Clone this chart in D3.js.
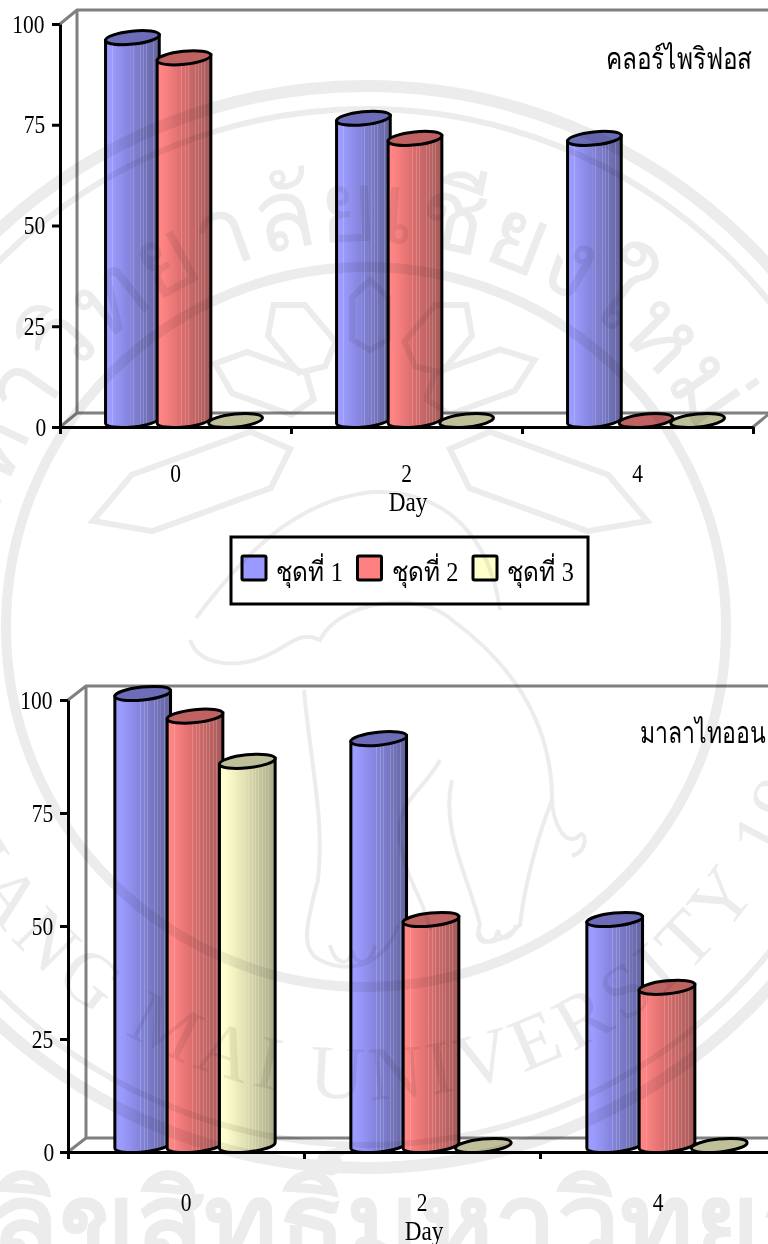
<!DOCTYPE html>
<html>
<head>
<meta charset="utf-8">
<script src="https://cdn.jsdelivr.net/npm/d3@7"></script>
<style>
  html, body { margin: 0; padding: 0; background: #fff; }
  svg { display: block; }
  text { font-family: "Liberation Serif", serif; fill: #000; }
  .squeezed { transform-box: fill-box; transform-origin: center; transform: scaleX(0.86); }
  #seal { mix-blend-mode: multiply; }
  #seal .line { fill: none; stroke: #ececec; }
  #seal text { fill: #ececec; }
</style>
</head>
<body>
<svg id="plot" width="768" height="1244"></svg>
<script>
const days = ['0', '2', '4'];
const seriesNames = ['ชุดที่ 1', 'ชุดที่ 2', 'ชุดที่ 3'];
const yTicks = [0, 25, 50, 75, 100];

const chlorpyrifosTitle = 'คลอร์ไพริฟอส';
const chlorpyrifosValues = [
  [95, 75, 70],
  [90, 70, 0],
  [0, 0, 0]
];

const malathionTitle = 'มาลาไทออน';
const malathionValues = [
  [100, 90, 50],
  [95, 50, 35],
  [85, 0, 0]
];

const legendFill = ['#9999ff', '#ff8080', '#ffffcc'];
const capFill = ['#6c6cb8', '#c06262', '#bfbf99'];
const bodyColors = [
  ['#9c9cff', '#8484dc', '#6464a0'],
  ['#ff8484', '#dc6e6e', '#a55a5a'],
  ['#ffffcd', '#e1e1b4', '#aaaa87']
];
// light pin stripes on the cylinder sides, as fractions of the width
const stripes = [0.12, 0.45, 0.52, 0.58, 0.64, 0.7, 0.76, 0.82, 0.88];

const svg = d3.select('#plot');
const defs = svg.append('defs');

bodyColors.forEach((c, i) => {
  const shade = d3.scaleLinear().domain([0.1, 0.45, 1]).range(c).clamp(true);
  const grad = defs.append('linearGradient').attr('id', `body${i}`);
  let stops = [];
  d3.range(0, 1.001, 0.04).forEach(t => stops.push([t, shade(t)]));
  stripes.forEach(t => {
    const light = d3.interpolateRgb(shade(t), '#fff')(0.18);
    stops.push([t - 0.001, shade(t)], [t, light], [t + 0.014, light], [t + 0.015, shade(t + 0.015)]);
  });
  stops.sort((a, b) => a[0] - b[0]);
  grad.selectAll('stop').data(stops).join('stop')
    .attr('offset', d => d[0])
    .attr('stop-color', d => d[1]);
});

const tilt = -6;

function bodyPath(cx, top, bottom, rx, ry) {
  const a = tilt * Math.PI / 180;
  const ex = rx * Math.cos(a), ey = rx * Math.sin(a);
  return `M${cx - ex},${top - ey} L${cx - ex},${bottom - ey}` +
    ` A${rx},${ry} ${tilt} 0 0 ${cx + ex},${bottom + ey} L${cx + ex},${top + ey} Z`;
}

function drawChart(o) {
  const g = svg.append('g');

  const x = d3.scaleBand().domain(days).range([o.left, o.right]);
  const edge = d3.scaleLinear().domain([0, days.length]).range([o.left, o.right]);
  const y = d3.scaleLinear().domain([0, 100]).range([o.bottom, o.top]);
  const inner = d3.scaleBand().domain(d3.range(seriesNames.length))
    .range([-1.5 * o.step, 1.5 * o.step]);

  // back wall and floor edges
  const wall = d3.line();
  const backLeft = o.left + o.dx, backTop = o.top - o.dy, backFloor = o.bottom - o.dy;
  [
    [[o.left, o.top], [backLeft, backTop], [790, backTop]],
    [[backLeft, backTop], [backLeft, backFloor], [790, backFloor]],
    [[o.left, o.bottom], [backLeft, backFloor]],
    [[o.right, o.bottom], [o.right + o.dx, backFloor]]
  ].forEach(pts => {
    g.append('path').attr('d', wall(pts))
      .attr('fill', 'none')
      .attr('stroke', '#808080')
      .attr('stroke-width', 3);
  });

  // cylinders, series by series so later ones sit over earlier ones
  o.values.forEach((vals, s) => {
    const rows = vals.map((v, i) => ({
      v,
      cx: x(days[i]) + x.bandwidth() / 2 + o.dx / 2 + inner(s) + inner.bandwidth() / 2,
      capY: y(v) - o.ry
    }));
    const bars = g.append('g').selectAll('g').data(rows).join('g');

    bars.filter(d => d.v > 0).append('path')
      .attr('d', d => bodyPath(d.cx, d.capY, o.bottom - o.ry, o.rx, o.ry))
      .attr('fill', `url(#body${s})`)
      .attr('stroke', '#000')
      .attr('stroke-width', 3);

    bars.append('ellipse')
      .attr('cx', d => d.cx)
      .attr('cy', d => d.capY)
      .attr('rx', o.rx)
      .attr('ry', o.ry)
      .attr('transform', d => `rotate(${tilt} ${d.cx} ${d.capY})`)
      .attr('fill', capFill[s])
      .attr('stroke', '#000')
      .attr('stroke-width', 3);
  });

  // axes
  const yAxis = d3.axisLeft(y).tickValues(yTicks).tickSize(8).tickPadding(5).tickSizeOuter(0);
  const yG = g.append('g').attr('transform', `translate(${o.left},0)`).call(yAxis);
  yG.selectAll('text').attr('class', 'squeezed').style('font-size', '25px');
  yG.selectAll('line, path').attr('stroke-width', 3);

  const xTicks = d3.axisBottom(edge).ticks(days.length).tickFormat('').tickSize(7).tickSizeOuter(0);
  const xG = g.append('g').attr('transform', `translate(0,${o.bottom})`).call(xTicks);
  xG.selectAll('line, path').attr('stroke-width', 3);

  const xLabels = d3.axisBottom(x).tickSize(0).tickPadding(o.labelGap);
  const lG = g.append('g').attr('transform', `translate(0,${o.bottom})`).call(xLabels);
  lG.select('.domain').remove();
  lG.selectAll('text').attr('class', 'squeezed').style('font-size', '25px');

  g.append('text')
    .attr('class', 'squeezed')
    .attr('x', o.dayX).attr('y', o.dayY)
    .attr('text-anchor', 'middle')
    .style('font-size', '27px')
    .text('Day');

  g.append('text')
    .attr('x', o.titleX).attr('y', o.titleY)
    .attr('textLength', o.titleLen)
    .attr('lengthAdjust', 'spacingAndGlyphs')
    .style('font-size', '30px')
    .text(o.title);
}

drawChart({
  left: 60, right: 753, top: 24, bottom: 427, dx: 17, dy: 14,
  step: 51.6, rx: 27, ry: 6.5, labelGap: 37, dayX: 408, dayY: 511,
  values: chlorpyrifosValues, title: chlorpyrifosTitle, titleX: 606, titleY: 69, titleLen: 146
});

drawChart({
  left: 68, right: 776, top: 700, bottom: 1152, dx: 18, dy: 14,
  step: 52.3, rx: 28, ry: 6.5, labelGap: 41, dayX: 424, dayY: 1240,
  values: malathionValues, title: malathionTitle, titleX: 640, titleY: 743, titleLen: 126
});

// legend
const legend = svg.append('g');
legend.append('rect')
  .attr('x', 231).attr('y', 537).attr('width', 357).attr('height', 67)
  .attr('fill', 'none').attr('stroke', '#000').attr('stroke-width', 3);

const legendX = d3.scalePoint().domain(seriesNames).range([242, 473]);
const item = legend.selectAll('g').data(seriesNames).join('g')
  .attr('transform', d => `translate(${legendX(d)},556)`);
item.append('rect')
  .attr('width', 24).attr('height', 24).attr('rx', 1.5)
  .attr('fill', (d, i) => legendFill[i])
  .attr('stroke', '#000').attr('stroke-width', 3);
item.append('text')
  .attr('x', 34).attr('y', 25)
  .attr('textLength', 67)
  .attr('lengthAdjust', 'spacingAndGlyphs')
  .style('font-size', '27px')
  .text(d => d);

// university seal printed across the page
const seal = svg.append('g').attr('id', 'seal');
const sealX = 366, sealY = 627;

[[541, 12], [518, 6], [360, 10]].forEach(r => {
  seal.append('circle').attr('class', 'line')
    .attr('cx', sealX).attr('cy', sealY).attr('r', r[0]).attr('stroke-width', r[1]);
});

function circlePath(r, clockwise) {
  const sweep = clockwise ? 1 : 0;
  return `M${sealX - r},${sealY} A${r},${r} 0 1 ${sweep} ${sealX + r},${sealY} A${r},${r} 0 1 ${sweep} ${sealX - r},${sealY}`;
}
defs.append('path').attr('id', 'sealUpper').attr('d', circlePath(385, true));
defs.append('path').attr('id', 'sealLower').attr('d', circlePath(472, false));

seal.append('text')
  .style('font-size', '100px')
  .append('textPath').attr('href', '#sealUpper').attr('startOffset', '3%')
  .text('มหาวิทยาลัยเชียงใหม่');

seal.append('text')
  .style('font-size', '76px').style('letter-spacing', '7px')
  .append('textPath').attr('href', '#sealLower').attr('startOffset', 125)
  .text('CHIANG MAI UNIVERSITY 1964');

// sun rays around the crown
const rays = [
  [270, 70, 140, 18], [230, 70, 150, 24], [310, 70, 150, 24],
  [200, 60, 165, 22], [340, 60, 175, 22], [160, 85, 295, 30], [20, 85, 295, 30]
];
rays.forEach(r => {
  const len = r[2] - r[1];
  seal.append('path').attr('class', 'line')
    .attr('stroke-width', 6)
    .attr('d', `M${r[1]},0 L${r[1] + len * 0.15},${-r[3]} L${r[1] + len * 0.75},${-r[3]} L${r[2]},0 L${r[1] + len * 0.75},${r[3]} L${r[1] + len * 0.15},${r[3]} Z`)
    .attr('transform', `translate(370,420) rotate(${r[0]})`);
});

// elephant outline
[
  'M196 618 C236 565 290 500 372 492 C450 490 490 540 500 610',
  'M190 640 C200 668 240 668 268 655 C290 645 300 630 320 640 C340 600 420 590 452 620 C520 670 552 730 552 800 C552 820 565 850 580 835 C585 830 590 850 572 856',
  'M304 690 C310 760 325 820 318 880 C306 925 300 950 320 960 C350 975 385 965 398 925',
  'M452 780 C440 830 470 880 480 925 C470 950 500 945 520 925 C525 880 540 830 552 800',
  'M440 760 C425 790 395 800 400 840 C405 880 425 900 430 930',
  'M330 945 C335 965 350 968 352 950 M352 950 C355 968 372 965 375 945',
  'M478 930 C482 945 495 945 498 930 M498 930 C500 942 512 940 516 925'
].forEach(d => {
  seal.append('path').attr('class', 'line').attr('stroke-width', 4).attr('d', d);
});

seal.append('text')
  .attr('x', -10).attr('y', 1262)
  .style('font-size', '112px').style('font-weight', 'bold')
  .text('ลิขสิทธิ์มหาวิทยาลัยเชียงใหม่');
</script>
</body>
</html>
